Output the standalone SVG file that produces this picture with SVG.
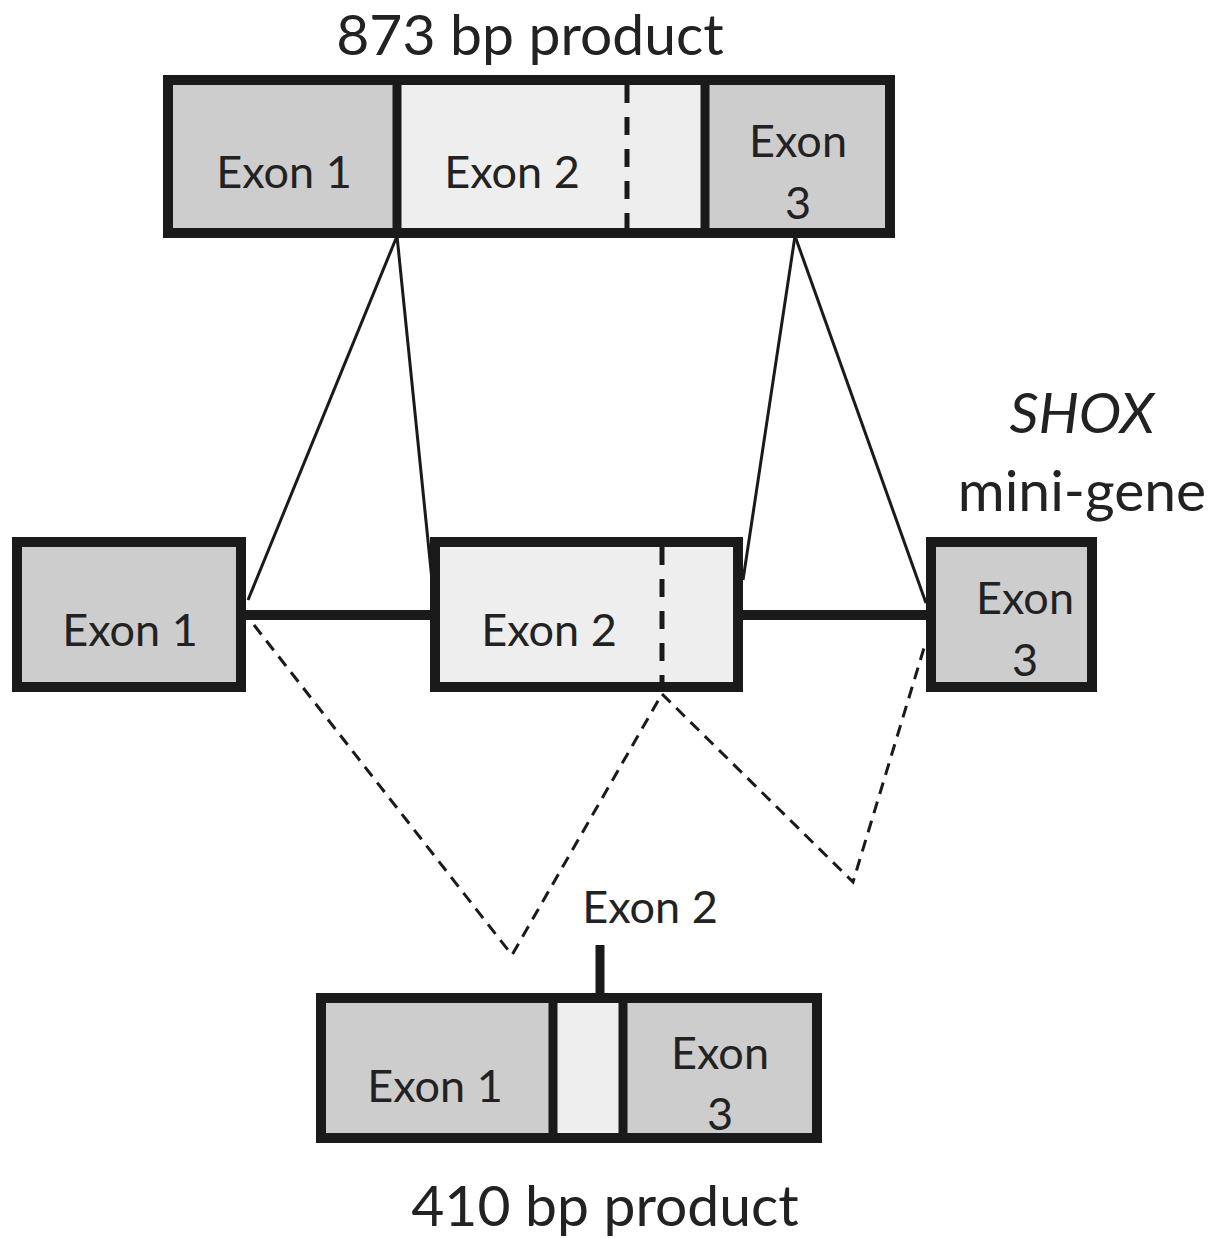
<svg xmlns="http://www.w3.org/2000/svg" width="1230" height="1238" viewBox="0 0 1230 1238">
<style>
.t{font-family:Lato,"Open Sans","Liberation Sans",sans-serif;fill:#222;text-anchor:middle}
.lab{font-size:45px}
.big{font-size:57px}
.box{stroke:#1a1a1a;stroke-width:10}
.dark{fill:#cdcdcd}
.light{fill:#eeeeee}
.div{stroke:#1a1a1a;stroke-width:9}
.dash{stroke:#1a1a1a;stroke-width:5;stroke-dasharray:18 14}
.thin{stroke:#1a1a1a;stroke-width:3;fill:none}
.thindash{stroke:#1a1a1a;stroke-width:3;fill:none;stroke-dasharray:12 8}
.intron{stroke:#1a1a1a;stroke-width:10}
</style>
<rect width="1230" height="1238" fill="#fff"/>
<g id="connectors">
<line class="intron" x1="246" y1="615" x2="430" y2="615"/>
<line class="intron" x1="743" y1="615" x2="926" y2="615"/>
<line class="thin" x1="397" y1="236" x2="248" y2="600"/>
<line class="thin" x1="397" y1="236" x2="432" y2="580"/>
<line class="thin" x1="795" y1="236" x2="743" y2="580"/>
<line class="thin" x1="795" y1="236" x2="926" y2="603"/>
<polyline class="thindash" points="254,625 512,955 662,694"/>
<polyline class="thindash" points="662,694 853,882 924,648"/>
<line class="div" x1="600" y1="945" x2="600" y2="995"/>
</g>
<g id="top-product">
<rect class="box light" x="168" y="80" width="722" height="153"/>
<rect class="dark" x="173" y="85" width="224" height="143"/>
<rect class="dark" x="705" y="85" width="180" height="143"/>
<line class="div" x1="397" y1="80" x2="397" y2="233"/>
<line class="div" x1="705" y1="80" x2="705" y2="233"/>
<line class="dash" x1="627" y1="85" x2="627" y2="228"/>
<text class="t lab" x="284" y="188">Exon 1</text>
<text class="t lab" x="512" y="188">Exon 2</text>
<text class="t lab" x="798" y="157">Exon</text>
<text class="t lab" x="798" y="219">3</text>
<text class="t big" x="530" y="55">873 bp product</text>
</g>
<g id="gene-exon1">
<rect class="box dark" x="17" y="542" width="224" height="145"/>
<text class="t lab" x="130" y="646">Exon 1</text>
</g>
<g id="gene-exon2">
<rect class="box light" x="435" y="542" width="303" height="145"/>
<line class="dash" x1="662" y1="547" x2="662" y2="687"/>
<text class="t lab" x="549" y="646">Exon 2</text>
</g>
<g id="gene-exon3">
<rect class="box dark" x="931" y="542" width="161" height="145"/>
<text class="t lab" x="1025" y="614">Exon</text>
<text class="t lab" x="1025" y="676">3</text>
</g>
<g id="gene-label">
<text class="t big" x="1082" y="433" font-style="italic">SHOX</text>
<text class="t big" x="1082" y="511">mini-gene</text>
</g>
<g id="bottom-product">
<rect class="box dark" x="321" y="998" width="496" height="140"/>
<rect class="light" x="553" y="1003" width="70" height="130"/>
<line class="div" x1="553" y1="998" x2="553" y2="1138"/>
<line class="div" x1="623" y1="998" x2="623" y2="1138"/>
<text class="t lab" x="435" y="1102">Exon 1</text>
<text class="t lab" x="720" y="1069">Exon</text>
<text class="t lab" x="720" y="1130">3</text>
<text class="t lab" x="650" y="923">Exon 2</text>
<text class="t big" x="605" y="1226">410 bp product</text>
</g>
</svg>
